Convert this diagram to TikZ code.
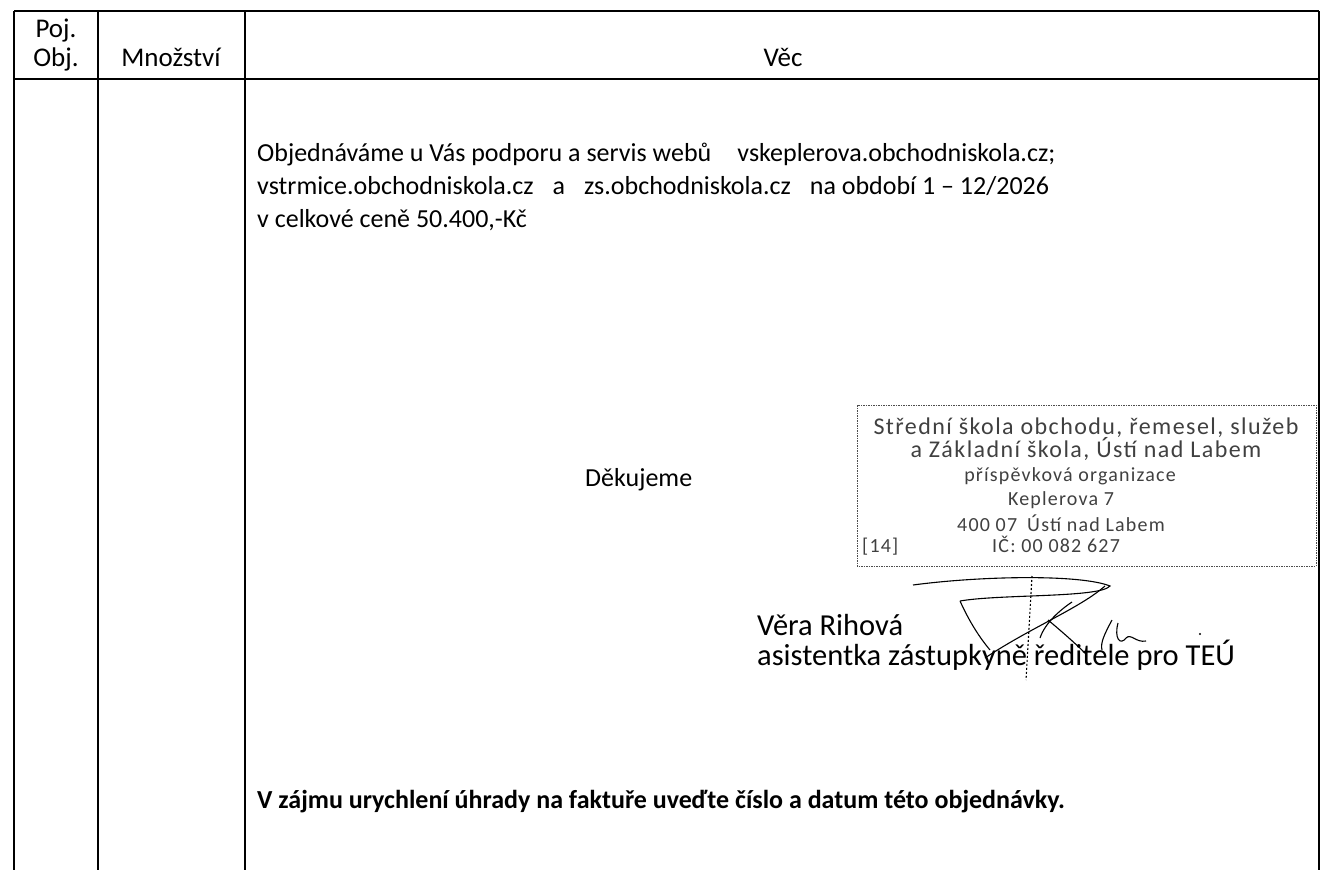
\documentclass[tikz,border=0pt]{standalone}
\usepackage{fontspec}
\setmainfont{Carlito}
\newfontfamily\stampfont[LetterSpace=6]{Carlito}
\usetikzlibrary{positioning}
\tikzstyle{rule} = [line width=2.6pt, black]
\tikzstyle{head} = [font=\fontsize{27}{30}\selectfont, inner sep=0pt, anchor=base]
\tikzstyle{body} = [font=\fontsize{26}{33}\selectfont, inner sep=0pt, anchor=base west]
\tikzstyle{signtext} = [font=\fontsize{30.5}{33}\selectfont, inner sep=0pt, anchor=base west]
\tikzstyle{stampbox} = [dash pattern=on 1.5pt off 1pt, line width=0.8pt, black!70]
\tikzstyle{stamptext} = [font=\stampfont\fontsize{24}{26}\selectfont, text=black!75, inner sep=0pt, anchor=base]
\tikzstyle{stampsmall} = [stamptext, font=\stampfont\fontsize{20}{22}\selectfont]
\tikzstyle{sign} = [line width=1.1pt, black]

\begin{document}
\begin{tikzpicture}[x=1pt, y=-1pt]
    \useasboundingbox (0,0) rectangle (1324,870);

    \draw [rule] (14,11)--(1319,11);
    \draw [rule] (14,79)--(1319,79);
    \draw [rule] (14,11)--(14,870);
    \draw [rule] (98,11)--(98,870);
    \draw [rule] (245,11)--(245,870);
    \draw [rule] (1319,11)--(1319,870);

    \node (poj) [head] at (56,37) {Poj.};
    \node (obj) [head] at (56,66) {Obj.};
    \node (mnozstvi) [head] at (171,66) {Množství};
    \node (vec) [head] at (783,66) {Věc};

    \node (txt1) [body] at (257,161) {Objednáváme u Vás podporu a servis webů\quad vskeplerova.obchodniskola.cz;};
    \node (txt2) [body] at (257,194) {vstrmice.obchodniskola.cz\hspace{19pt}a\hspace{19pt}zs.obchodniskola.cz\hspace{19pt}na období 1 -- 12/2026};
    \node (txt3) [body] at (257,227) {v celkové ceně 50.400,-Kč};

    \node (dekujeme) [body] at (585,486) {Děkujeme};

    \draw [stampbox] (857,405) rectangle (1316,566);
    \node (stamp1) [stamptext] at (1086,434) {Střední škola obchodu, řemesel, služeb};
    \node (stamp2) [stamptext] at (1086,457) {a Základní škola, Ústí nad Labem};
    \node (stamp3) [stampsmall] at (1070,481) {příspěvková organizace};
    \node (stamp4) [stampsmall] at (1061,505) {Keplerova 7};
    \node (stamp5) [stampsmall] at (1061,531) {400 07\enspace Ústí nad Labem};
    \node (stamp6) [stampsmall] at (1056,552) {IČ: 00 082 627};
    \node (stamp7) [stampsmall, anchor=base west] at (862,552) {[14]};

    \draw [sign] (913,585) .. controls (980,576) and (1080,574) .. (1110,586) .. controls (1100,598) and (1000,594) .. (960,601);
    \draw [sign] (960,601) .. controls (970,623) and (980,638) .. (990,650);
    \draw [sign, dash pattern=on 2pt off 2pt] (1032,576)--(1026,680);
    \draw [sign] (985,658) .. controls (1030,628) and (1080,608) .. (1105,586);
    \draw [sign] (1040,638) .. controls (1045,623) and (1060,610) .. (1072,602);
    \draw [sign] (1048,620) .. controls (1060,630) and (1075,643) .. (1086,654);
    \draw [sign] (1112,620) .. controls (1105,633) and (1100,643) .. (1102,650);
    \draw [sign] (1118,623) .. controls (1114,638) and (1120,646) .. (1126,638) .. controls (1131,633) and (1136,643) .. (1146,641);
    \fill (1200,634) circle (1.2);

    \node (jmeno) [signtext] at (757,635) {Věra Rihová};
    \node (funkce) [signtext] at (757,665) {asistentka zástupkyně ředitele pro TEÚ};

    \node (pozn) [body, font=\fontsize{26}{33}\selectfont\bfseries] at (257,808) {V zájmu urychlení úhrady na faktuře uveďte číslo a datum této objednávky.};

\end{tikzpicture}
\end{document}
